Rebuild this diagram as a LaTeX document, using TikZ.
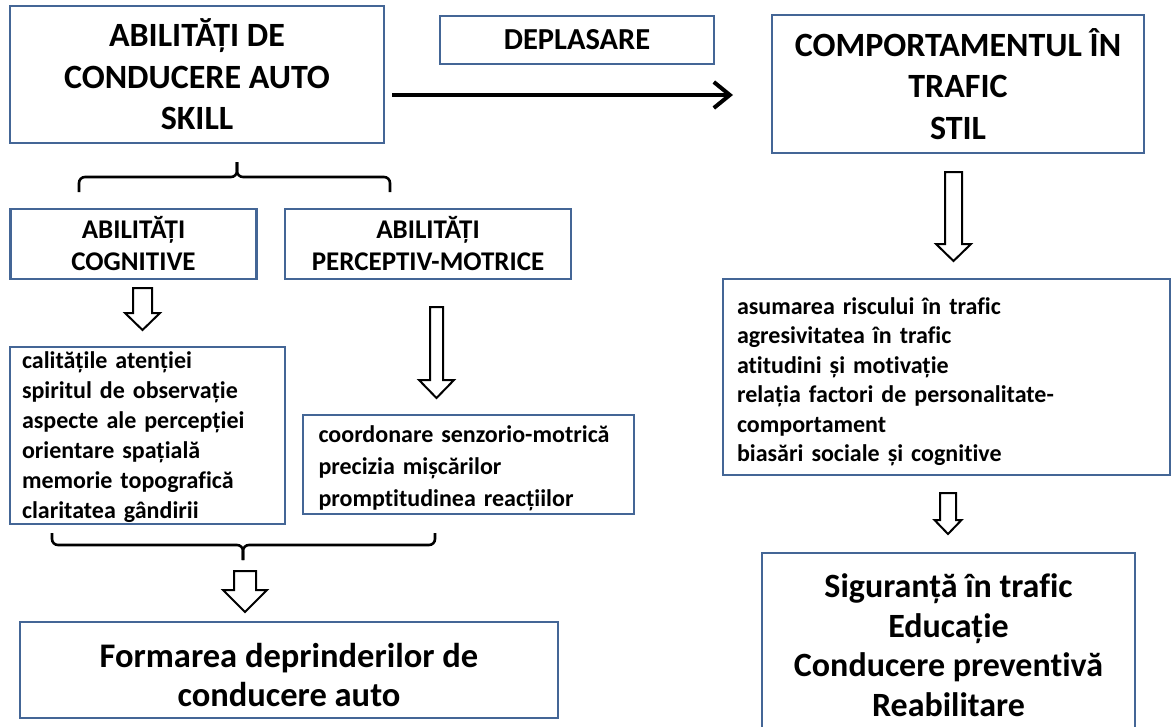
\documentclass[tikz,border=0pt]{standalone}
\usepackage{fontspec}
\setmainfont{Carlito}[Ligatures={NoCommon}]
\usetikzlibrary{arrows.meta}
\definecolor{boxblue}{RGB}{68,102,150}
\newcommand\blockdown[6]{% x, ytop, yhead, ytip, shafthalf, headhalf
  \draw[blockar] ({#1-#5},#2) -- ({#1+#5},#2) -- ({#1+#5},#3) -- ({#1+#6},#3)
    -- (#1,#4) -- ({#1-#6},#3) -- ({#1-#5},#3) -- cycle;}
\newcommand\lift[1]{\rule{0pt}{#1pt}}
\begin{document}
\begin{tikzpicture}[x=1pt,y=-1pt,
  box/.style={draw=boxblue, line width=2.4pt, fill=white, inner sep=0pt, align=center},
  bigtext/.style={font=\bfseries\fontsize{34}{41.5}\selectfont},
  midtext/.style={font=\bfseries\fontsize{27}{32}\selectfont},
  listtext/.style={font=\bfseries\fontsize{24}{30.5}\selectfont, align=left},
  blockar/.style={draw=black, line width=2pt, fill=white, line join=miter},
  brace/.style={draw=black, line width=2.6pt, rounded corners=6pt},
  mainarr/.style={line width=4pt, -{Straight Barb[length=16pt,width=26pt]}}]
\useasboundingbox (0,0) rectangle (1172,726);
\clip (0,0) rectangle (1172,726);
\fill[white] (0,0) rectangle (1172,726);

% top row
\node[box, bigtext, minimum width=374pt, minimum height=137pt] (skill) at (197,74.5)
  {ABILITĂȚI DE\\CONDUCERE AUTO\\SKILL};
\node[box, font=\bfseries\fontsize{30.5}{35}\selectfont, minimum width=274pt, minimum height=48pt] (depl) at (577,40)
  {DEPLASARE};
\node[box, bigtext, minimum width=372pt, minimum height=138pt] (comp) at (958,84)
  {COMPORTAMENTUL ÎN\\TRAFIC\\STIL};

% main arrow
\coordinate (a1) at (392,95);
\coordinate (a2) at (733,95);
\draw[mainarr] (a1) -- (a2);

% top brace
\draw[brace] (79,192) -- (79,177) -- (237,177) -- (237,162);
\draw[brace] (390,192) -- (390,177) -- (237,177) -- (237,162);

% second level
\node[box, midtext, minimum width=246pt, minimum height=70pt] (cog) at (133.5,244)
  {ABILITĂȚI\\COGNITIVE};
\node[box, midtext, minimum width=286pt, minimum height=70pt] (perc) at (428,244)
  {ABILITĂȚI\\PERCEPTIV-MOTRICE};

% lists
\node[box, listtext, font=\bfseries\fontsize{24}{30}\selectfont, minimum width=275pt, minimum height=177pt, text width=251pt] (cogl) at (147.5,435.5)
  {\lift{21}calitățile atenției\\spiritul de observație\\aspecte ale percepției\\orientare spațială\\memorie topografică\\claritatea gândirii};
\node[box, listtext, font=\bfseries\fontsize{24}{32}\selectfont, minimum width=331pt, minimum height=99pt, text width=300pt] (percl) at (468.5,464.5)
  {\lift{24}coordonare senzorio-motrică\\precizia mișcărilor\\promptitudinea reacțiilor};
\node[box, listtext, font=\bfseries\fontsize{24}{29.5}\selectfont, minimum width=447pt, minimum height=196pt, text width=419pt] (rl) at (946.5,377)
  {\lift{26}asumarea riscului în trafic\\agresivitatea în trafic\\atitudini și motivație\\relația factori de personalitate-\\comportament\\biasări sociale și cognitive};

% bottom
\node[box, font=\bfseries\fontsize{34.5}{39}\selectfont, minimum width=538pt, minimum height=96pt] (form) at (289,670)
  {\lift{35}Formarea deprinderilor de\\conducere auto};
\node[box, font=\bfseries\fontsize{34}{39.5}\selectfont, minimum width=373pt, minimum height=184pt] (fin) at (948.5,645)
  {Siguranță în trafic\\Educație\\Conducere preventivă\\Reabilitare};

% bottom brace
\draw[brace] (52,533) -- (52,545) -- (243,545) -- (243,560);
\draw[brace] (435,533) -- (435,545) -- (243,545) -- (243,560);

% block arrows
\blockdown{142.5}{288}{313}{330}{9.5}{17.5}
\blockdown{436.5}{307}{380}{398}{6.5}{17.5}
\blockdown{245}{571}{590}{612}{11}{22}
\blockdown{953.5}{172}{244}{261}{8.5}{17.5}
\blockdown{948}{493}{520}{534}{8}{13.5}
\end{tikzpicture}
\end{document}
